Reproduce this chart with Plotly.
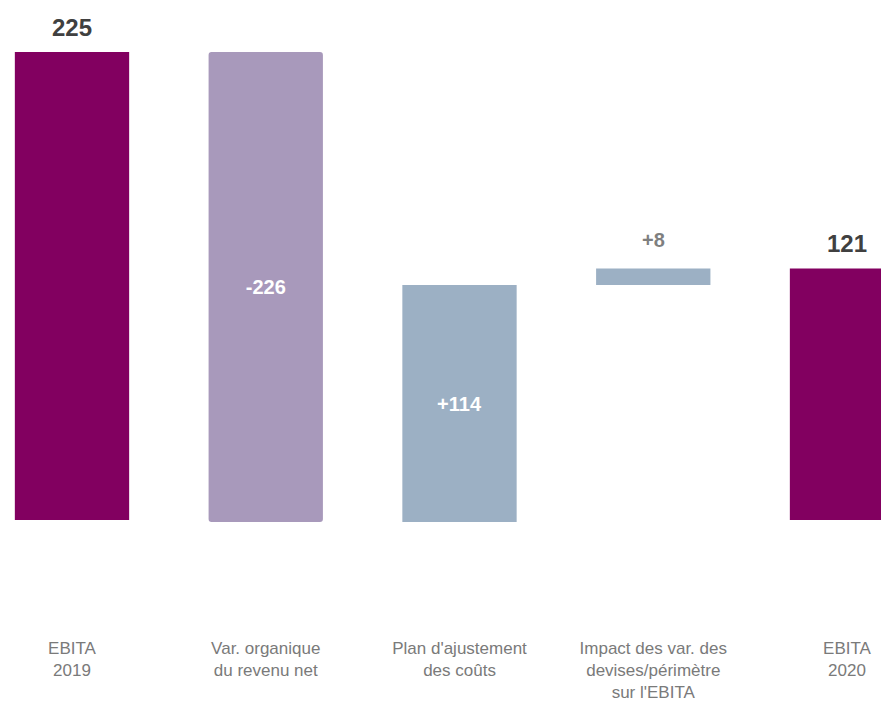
import plotly.graph_objects as go

categories = ["EBITA<br>2019", "Var. organique<br>du revenu net", "Plan d'ajustement<br>des coûts",
              "Impact des var. des<br>devises/périmètre<br>sur l'EBITA", "EBITA<br>2020"]
values = [225, -226, 114, 8, 121]
measures = ["total", "relative", "relative", "relative", "total"]
labels = ["225", "-226", "+114", "+8", "121"]

C_TOTAL = "#820060"
C_DEC = "#a899bb"
C_INC = "#9cb0c4"

bases, heights, colors = [], [], []
running = 0
for v, m in zip(values, measures):
    if m == "total":
        bases.append(0)
        heights.append(v)
        running = v
        colors.append(C_TOTAL)
    else:
        bases.append(running)
        heights.append(v)
        running += v
        colors.append(C_INC if v > 0 else C_DEC)

FONT = "Liberation Sans, Arial, sans-serif"

inside = [m != "total" and abs(v) >= 40 for v, m in zip(values, measures)]

fig = go.Figure()
idx_main = [i for i in range(len(values)) if colors[i] != C_DEC]
idx_dec = [i for i in range(len(values)) if colors[i] == C_DEC]

for idx, cr in ((idx_main, 0), (idx_dec, 3)):
    fig.add_trace(go.Bar(
        x=[categories[i] for i in idx],
        y=[heights[i] for i in idx],
        base=[bases[i] for i in idx],
        marker=dict(color=[colors[i] for i in idx], line=dict(width=0), cornerradius=cr),
        text=[labels[i] if inside[i] else "" for i in idx],
        textposition="inside",
        insidetextanchor="middle",
        textfont=dict(family=FONT, size=20, color="#ffffff", weight="bold"),
        textangle=0,
        constraintext="none",
        width=0.59,
        showlegend=False,
        hoverinfo="skip",
    ))

for i, (v, m) in enumerate(zip(values, measures)):
    if inside[i]:
        continue
    top = max(bases[i], bases[i] + heights[i])
    if m == "total":
        fnt = dict(family=FONT, size=24, color="#404040", weight="bold")
        ys = 9
    else:
        fnt = dict(family=FONT, size=20, color="#7f7f7f", weight="bold")
        ys = 15
    fig.add_annotation(x=categories[i], y=top, xref="x", yref="y", text=labels[i],
                       showarrow=False, yanchor="bottom", xanchor="center", yshift=ys,
                       font=fnt)

fig.update_layout(
    width=889, height=701,
    margin=dict(l=0, r=0, t=0, b=73),
    paper_bgcolor="white", plot_bgcolor="white",
    barmode="overlay",
    xaxis=dict(type="category", categoryorder="array", categoryarray=categories,
               range=[-0.3303, 4.258], showgrid=False, zeroline=False, showline=False,
               ticks="", tickfont=dict(family=FONT, size=17, color="#7a7a7a")),
    yaxis=dict(range=[-55.77, 246.2], visible=False, showgrid=False, zeroline=False),
)

fig.write_html("out.html")
